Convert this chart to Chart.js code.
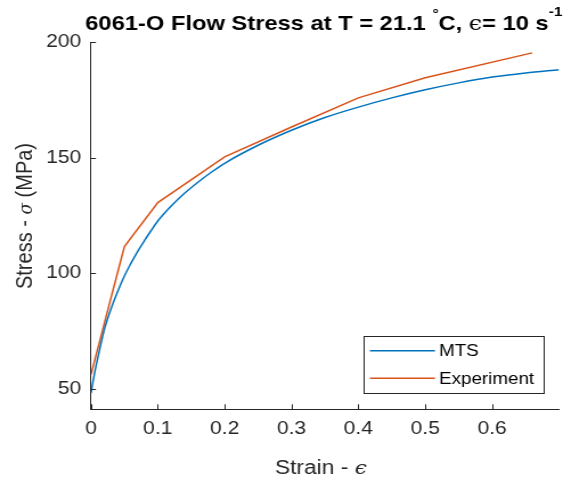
<!DOCTYPE html>
<html><head><meta charset="utf-8">
<script src="https://cdn.jsdelivr.net/npm/chart.js@4/dist/chart.umd.min.js"></script>
<style>
html,body{margin:0;padding:0;background:#fff;overflow:hidden;}
#wrap{width:501px;height:479px;transform:scaleX(1.1397);transform-origin:0 0;}
canvas{display:block;}
</style></head><body>
<div id="wrap"><canvas id="c" width="501" height="479"></canvas></div>
<script>
const mtsStrain = [0, 0.005, 0.01, 0.015, 0.02, 0.03, 0.04, 0.05, 0.06, 0.07, 0.08, 0.09, 0.1, 0.12, 0.14, 0.16, 0.18, 0.2, 0.25, 0.3, 0.35, 0.4, 0.45, 0.5, 0.55, 0.6, 0.65, 0.7];
const mtsStress = [48, 56, 63, 69.5, 75.5, 84.5, 92, 98.7, 104.3, 109.4, 114, 118.4, 122.5, 129, 134.5, 139.3, 143.6, 147.5, 155.3, 161.8, 167.3, 171.8, 175.8, 179.3, 182.3, 184.8, 186.6, 188];
const expStrain = [0, 0.05, 0.1, 0.2, 0.3, 0.4, 0.5, 0.66];
const expStress = [56, 111.4, 130.5, 150.3, 163.2, 175.8, 184.5, 195.3];
const xTickValues = [0, 0.1, 0.2, 0.3, 0.4, 0.5, 0.6];
const yTickValues = [50, 100, 150, 200];
const seriesNames = ['MTS', 'Experiment'];
const seriesColors = ['#0072BD', '#D95319'];
const xAxisLabel = ['Strain - ', 'ϵ'];
const yAxisLabel = ['Stress - ', 'σ', ' (MPa)'];

const FONT = '"Liberation Sans", Arial, Helvetica, sans-serif';
const AXC = '#262626';

const toPts = (xs, ys) => xs.map((x, i) => ({x: x, y: ys[i]}));

const deco = {
  id: 'deco',
  afterDraw(chart) {
    const ctx = chart.ctx, ca = chart.chartArea;
    const xs = chart.scales.x, ys = chart.scales.y;
    ctx.save();
    // inward tick marks
    ctx.strokeStyle = AXC; ctx.lineWidth = 1;
    ctx.beginPath();
    xs.ticks.forEach(t => {
      const px = Math.round(xs.getPixelForValue(t.value)) + 0.5;
      ctx.moveTo(px, ca.bottom); ctx.lineTo(px, ca.bottom - 5);
    });
    ys.ticks.forEach(t => {
      const py = Math.round(ys.getPixelForValue(t.value)) + 0.5;
      ctx.moveTo(ca.left, py); ctx.lineTo(ca.left + 4.4, py);
    });
    ctx.stroke();

    // title
    const cx = (ca.left + ca.right) / 2 - 1;
    const parts = [
      {t: '6061-O Flow Stress at T = 21.1 ', f: 'bold 20.8px ' + FONT, dy: 0},
      {t: '°', f: 'bold 13.5px ' + FONT, dy: -12},
      {t: 'C, ', f: 'bold 20.8px ' + FONT, dy: 0},
      {t: 'ϵ', f: '20.8px "DejaVu Serif", serif', dy: 0},
      {t: '= 10 s', f: 'bold 20.8px ' + FONT, dy: 0},
      {t: '-1', f: 'bold 13.5px ' + FONT, dy: -14}
    ];
    let total = 0;
    parts.forEach(p => { ctx.font = p.f; p.w = ctx.measureText(p.t).width; total += p.w; });
    let x = cx - total / 2;
    ctx.fillStyle = '#000'; ctx.textBaseline = 'alphabetic'; ctx.textAlign = 'left';
    parts.forEach(p => { ctx.font = p.f; ctx.fillText(p.t, x, 29.5 + p.dy); x += p.w; });

    // x axis label
    ctx.fillStyle = AXC;
    const xl = [{t: xAxisLabel[0], f: '20px ' + FONT}, {t: xAxisLabel[1], f: 'italic 19px "DejaVu Serif", serif'}];
    total = 0;
    xl.forEach(p => { ctx.font = p.f; p.w = ctx.measureText(p.t).width; total += p.w; });
    x = 281.5 - total / 2;
    xl.forEach(p => { ctx.font = p.f; ctx.fillText(p.t, x, 474); x += p.w; });

    // y axis label
    const yl = [{t: yAxisLabel[0], f: '20px ' + FONT}, {t: yAxisLabel[1], f: 'italic 17px "DejaVu Serif", serif'}, {t: yAxisLabel[2], f: '20px ' + FONT}];
    total = 0;
    yl.forEach(p => { ctx.font = p.f; p.w = ctx.measureText(p.t).width; total += p.w; });
    ctx.save();
    ctx.translate(28, 216);
    ctx.rotate(-Math.PI / 2);
    x = -total / 2;
    yl.forEach(p => { ctx.font = p.f; ctx.fillText(p.t, x, 0); x += p.w; });
    ctx.restore();

    // legend
    const bx1 = ca.right - 13.8, bx0 = bx1 - 157.9;
    const by1 = ca.bottom - 16.6, by0 = by1 - 57;
    ctx.fillStyle = '#fff';
    ctx.fillRect(bx0, by0, bx1 - bx0, by1 - by0);
    ctx.strokeStyle = '#262626'; ctx.lineWidth = 1;
    ctx.strokeRect(Math.round(bx0) + 0.5, Math.round(by0) + 0.5, Math.round(bx1 - bx0), Math.round(by1 - by0));
    ctx.font = '16.5px ' + FONT; ctx.textBaseline = 'middle';
    chart.data.datasets.forEach((ds, i) => {
      const ly = by0 + 15 + i * 27.6;
      ctx.strokeStyle = ds.borderColor; ctx.lineWidth = 1.5;
      ctx.beginPath(); ctx.moveTo(bx0 + 5.9, ly); ctx.lineTo(bx0 + 62.9, ly); ctx.stroke();
      ctx.fillStyle = '#000';
      ctx.fillText(ds.label, bx0 + 66.5, ly + 1);
    });
    ctx.restore();
  }
};

new Chart(document.getElementById('c'), {
  type: 'line',
  data: {
    datasets: [
      {label: seriesNames[0], data: toPts(mtsStrain, mtsStress), borderColor: seriesColors[0], borderWidth: 1.5, pointRadius: 0, fill: false, cubicInterpolationMode: 'monotone'},
      {label: seriesNames[1], data: toPts(expStrain, expStress), borderColor: seriesColors[1], borderWidth: 1.5, pointRadius: 0, fill: false, tension: 0}
    ]
  },
  options: {
    responsive: false,
    devicePixelRatio: 1,
    animation: false,
    events: [],
    layout: {padding: {top: 42, right: 10.6, left: 0, bottom: 0}},
    plugins: {legend: {display: false}, title: {display: false}, tooltip: {enabled: false}},
    scales: {
      x: {
        type: 'linear', min: 0, max: 0.7,
        grid: {display: false, drawTicks: false},
        border: {display: true, color: AXC, width: 1},
        ticks: {color: AXC, font: {family: FONT, size: 18.5}, padding: 8.5, maxRotation: 0,
                callback: v => String(v)},
        afterBuildTicks: s => { s.ticks = xTickValues.map(v => ({value: v})); },
        afterFit: s => { s.height = 69.7; }
      },
      y: {
        type: 'linear', min: 41, max: 200,
        grid: {display: false, drawTicks: false},
        border: {display: true, color: AXC, width: 1},
        ticks: {color: AXC, font: {family: FONT, size: 18.5}, padding: 8.5,
                callback: v => String(v)},
        afterBuildTicks: s => { s.ticks = yTickValues.map(v => ({value: v})); },
        afterFit: s => { s.width = 79.8; }
      }
    }
  },
  plugins: [deco]
});
</script>
</body></html>
